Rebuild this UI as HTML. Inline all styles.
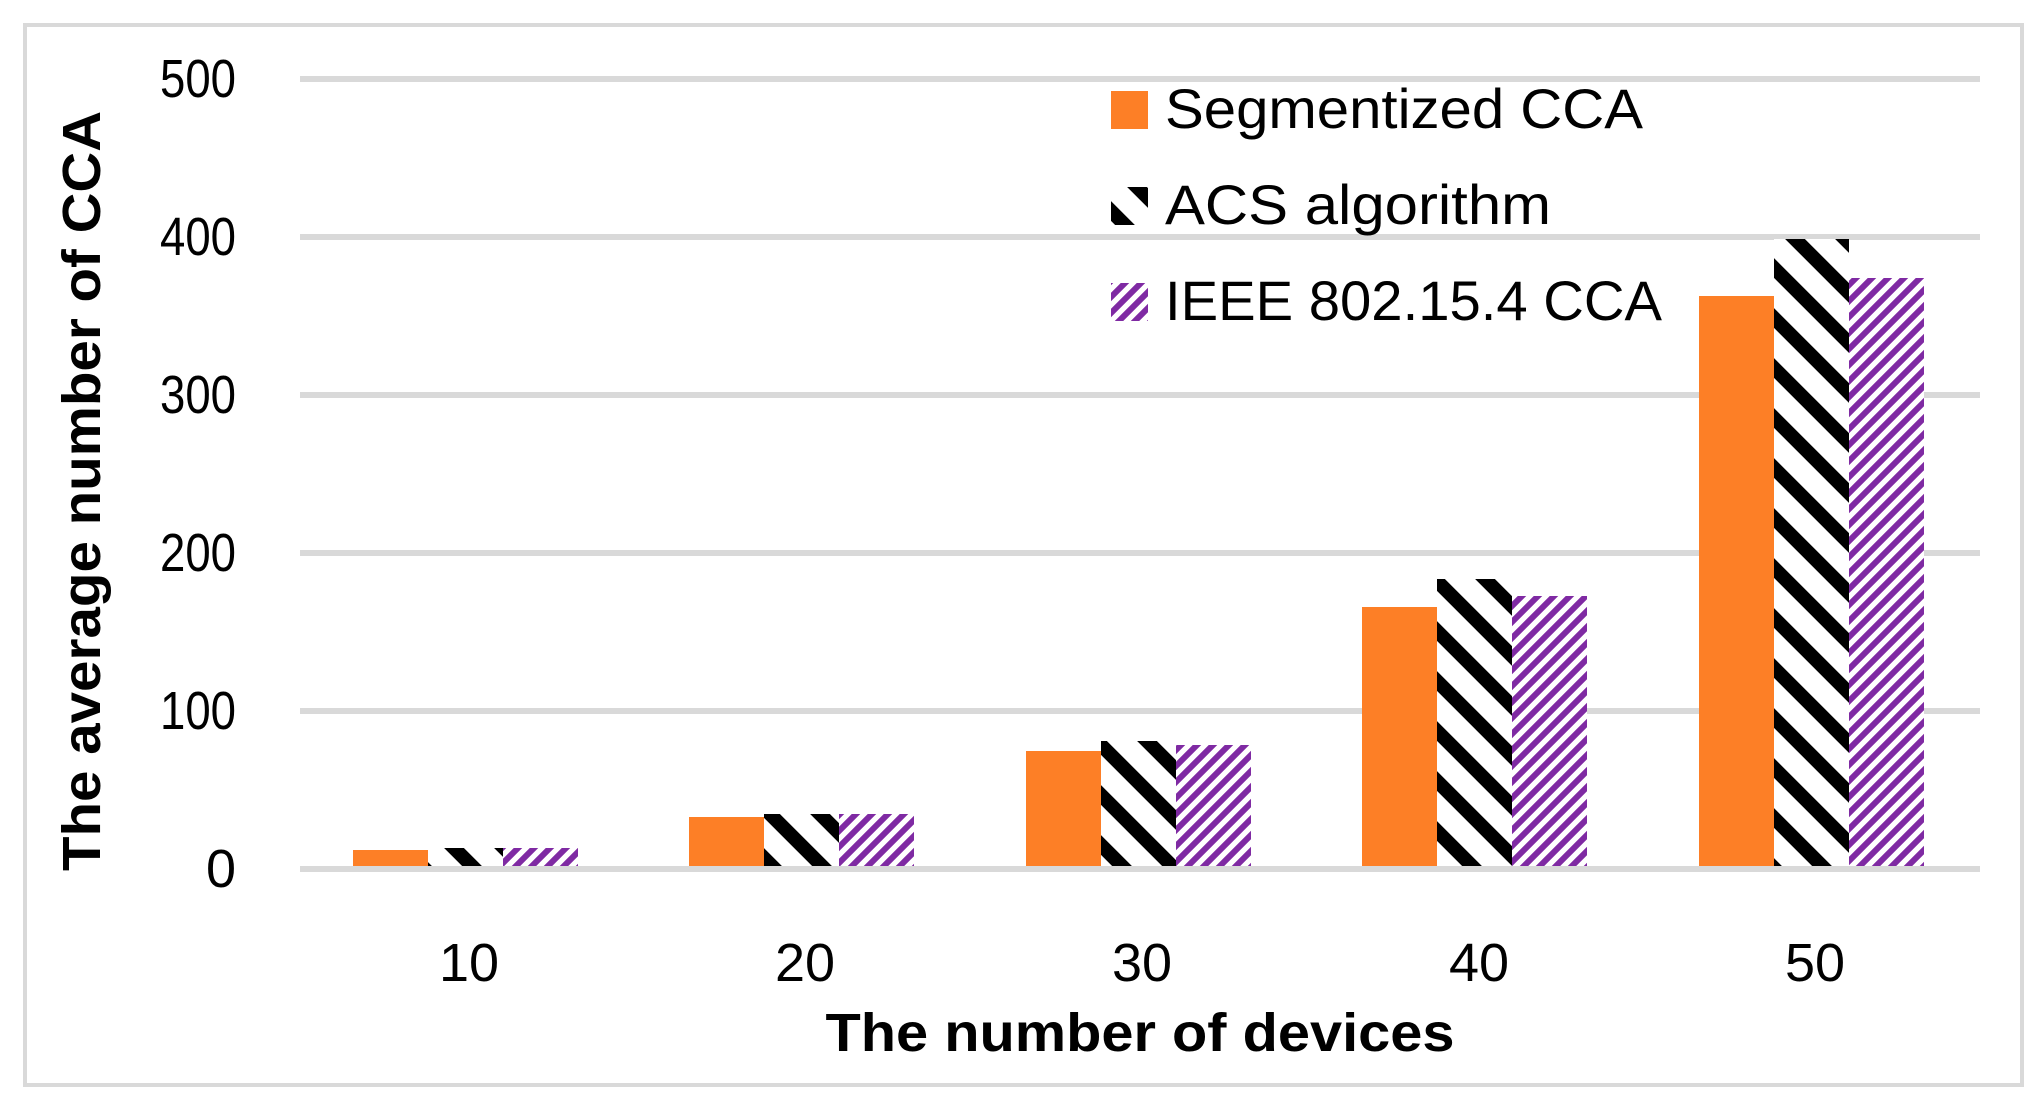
<!DOCTYPE html>
<html><head><style>html,body{margin:0;padding:0;background:#fff}</style></head>
<body>
<svg width="2043" height="1109" xmlns="http://www.w3.org/2000/svg" font-family="'Liberation Sans', sans-serif">
<defs>
<pattern id="acs" patternUnits="userSpaceOnUse" width="50" height="50" x="0" y="0">
<rect width="50" height="50" fill="#fff"/>
<path d="M-12,-12 L62,62 M-37,13 L37,87 M13,-37 L87,37" stroke="#000" stroke-width="14"/>
</pattern>
<pattern id="ieee" patternUnits="userSpaceOnUse" width="16" height="16">
<rect width="16" height="16" fill="#fff"/>
<path d="M-4,4 L4,-4 M0,16 L16,0 M12,20 L20,12" stroke="#7f2aa3" stroke-width="6"/>
</pattern>
</defs>
<rect x="25" y="25" width="1997" height="1060" fill="#fff" stroke="#d9d9d9" stroke-width="4"/>
<g stroke="#d9d9d9" stroke-width="6">
<line x1="300" x2="1980" y1="79" y2="79"/>
<line x1="300" x2="1980" y1="237" y2="237"/>
<line x1="300" x2="1980" y1="395" y2="395"/>
<line x1="300" x2="1980" y1="553" y2="553"/>
<line x1="300" x2="1980" y1="711" y2="711"/>
<line x1="300" x2="1980" y1="869" y2="869"/>
</g>
<g font-size="54" text-anchor="end" fill="#000">
<text x="236" y="97" textLength="76" lengthAdjust="spacingAndGlyphs">500</text>
<text x="236" y="255" textLength="76" lengthAdjust="spacingAndGlyphs">400</text>
<text x="236" y="413" textLength="76" lengthAdjust="spacingAndGlyphs">300</text>
<text x="236" y="571" textLength="76" lengthAdjust="spacingAndGlyphs">200</text>
<text x="236" y="729" textLength="76" lengthAdjust="spacingAndGlyphs">100</text>
<text x="236" y="887">0</text>
</g>
<g transform="translate(6,0)">
<rect x="347" y="850" width="75" height="19" fill="#fd7f26"/>
<rect x="422" y="848" width="75" height="21" fill="url(#acs)"/>
<rect x="497" y="848" width="75" height="21" fill="url(#ieee)"/>

<rect x="683" y="817" width="75" height="52" fill="#fd7f26"/>
<rect x="758" y="814" width="75" height="55" fill="url(#acs)"/>
<rect x="833" y="814" width="75" height="55" fill="url(#ieee)"/>

<rect x="1020" y="751" width="75" height="118" fill="#fd7f26"/>
<rect x="1095" y="741" width="75" height="128" fill="url(#acs)"/>
<rect x="1170" y="745" width="75" height="124" fill="url(#ieee)"/>

<rect x="1356" y="607" width="75" height="262" fill="#fd7f26"/>
<rect x="1431" y="579" width="75" height="290" fill="url(#acs)"/>
<rect x="1506" y="596" width="75" height="273" fill="url(#ieee)"/>

<rect x="1693" y="296" width="75" height="573" fill="#fd7f26"/>
<rect x="1768" y="239" width="75" height="630" fill="url(#acs)"/>
<rect x="1843" y="278" width="75" height="591" fill="url(#ieee)"/>
</g>
<line x1="300" x2="1980" y1="869" y2="869" stroke="#d9d9d9" stroke-width="6"/>
<g font-size="54" text-anchor="middle" fill="#000">
<text x="469" y="981">10</text>
<text x="805" y="981">20</text>
<text x="1142" y="981">30</text>
<text x="1479" y="981">40</text>
<text x="1815" y="981">50</text>
</g>
<text x="1140" y="1051" font-size="54" font-weight="bold" text-anchor="middle" textLength="629" lengthAdjust="spacingAndGlyphs">The number of devices</text>
<text transform="translate(100,491) rotate(-90)" font-size="54" font-weight="bold" text-anchor="middle" textLength="760" lengthAdjust="spacingAndGlyphs">The average number of CCA</text>
<rect x="1111" y="91" width="37" height="38" fill="#fd7f26"/>
<rect x="1111" y="187" width="37" height="38" fill="url(#acs)"/>
<rect x="1111" y="283" width="37" height="38" fill="url(#ieee)"/>
<g font-size="56" fill="#000">
<text x="1165" y="128" textLength="478" lengthAdjust="spacingAndGlyphs">Segmentized CCA</text>
<text x="1165" y="224" textLength="386" lengthAdjust="spacingAndGlyphs">ACS algorithm</text>
<text x="1165" y="320" textLength="497" lengthAdjust="spacingAndGlyphs">IEEE 802.15.4 CCA</text>
</g>
</svg>
</body></html>
